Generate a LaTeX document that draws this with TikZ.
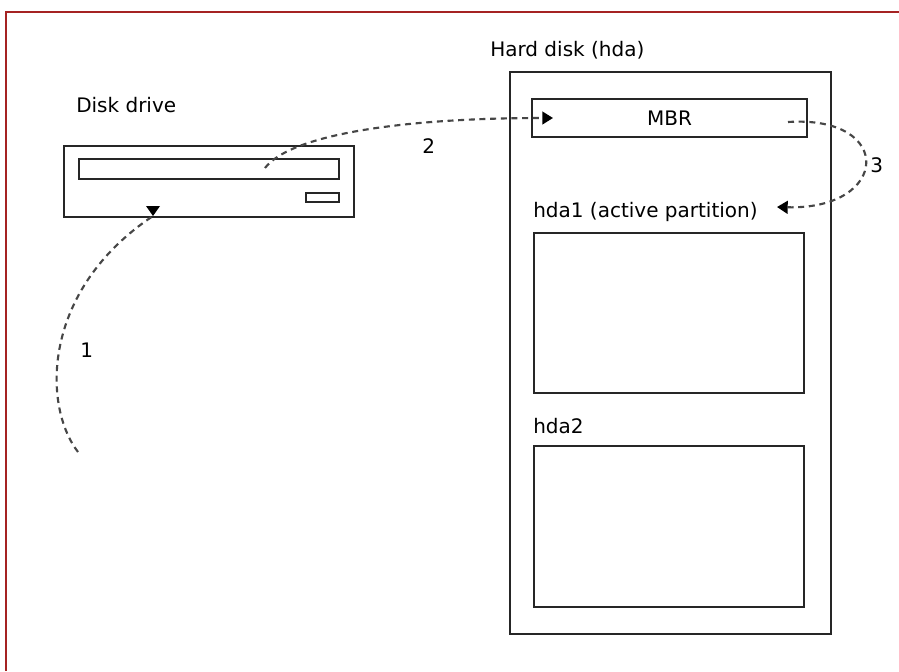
\documentclass[tikz,border=0pt]{standalone}
\usepackage{fontspec}
\setmainfont{DejaVu Sans}
\usetikzlibrary{arrows.meta}
\definecolor{frame}{RGB}{165,35,35}
\definecolor{dashc}{RGB}{70,70,70}
\begin{document}
\begin{tikzpicture}[x=0.75pt,y=-0.75pt,
  box/.style={draw=black!85,line width=1.6pt,inner sep=0pt,outer sep=0pt,anchor=north west,fill=none},
  lbl/.style={inner sep=0pt,anchor=base west,font=\fontsize{15}{18}\selectfont},
  flow/.style={draw=dashc,line width=1.6pt,dash pattern=on 4.5pt off 3.5pt},
  tip/.style={-{Triangle[length=8pt,width=9.5pt,black]}}]
\useasboundingbox (0,0) rectangle (899,671);
\fill[white] (0,0) rectangle (899,671);
% red frame
\draw[frame,line width=2pt] (6,671) -- (6,12) -- (899,12);
% disk drive
\node[box,minimum width=217.5pt,minimum height=53.25pt] (drive) at (64,146) {};
\node[box,minimum width=195pt,minimum height=15pt] (slot) at (79,159) {};
\node[box,minimum width=24.75pt,minimum height=6.75pt] (button) at (306,193) {};
\node[lbl] (drivelbl) at (76,112) {Disk drive};
% hard disk
\node[box,minimum width=240.75pt,minimum height=421.5pt] (hd) at (510,72) {};
\node[lbl] (hdlbl) at (490,56) {Hard disk (hda)};
\node[box,minimum width=206.25pt,minimum height=28.5pt,font=\fontsize{15}{18}\selectfont] (mbr) at (532,99) {MBR};
\node[lbl] (hda1lbl) at (533,217) {hda1 (active partition)};
\node[box,minimum width=202.5pt,minimum height=120pt] (hda1) at (534,233) {};
\node[lbl] (hda2lbl) at (533,433) {hda2};
\node[box,minimum width=202.5pt,minimum height=120.75pt] (hda2) at (534,446) {};
% step numbers
\node[lbl] (n1) at (80,357) {1};
\node[lbl] (n2) at (422,153) {2};
\node[lbl] (n3) at (870,172) {3};
% connectors
\coordinate (a1s) at (78,452);
\coordinate (a1e) at (153,216);
\coordinate (a2s) at (265,168);
\coordinate (a2e) at (553,118);
\coordinate (a3s) at (788,122);
\coordinate (a3e) at (777,207);
\draw[flow] (a1s) .. controls (42,405) and (42,290) .. (a1e);
\fill[black] (a1e) -- ++(-7,-10) -- ++(14,0) -- cycle;
\draw[flow,tip] (a2s) .. controls (290,135) and (400,118) .. (a2e);
\draw[flow,tip] (a3s) .. controls (895,115) and (890,210) .. (a3e);
\end{tikzpicture}
\end{document}
